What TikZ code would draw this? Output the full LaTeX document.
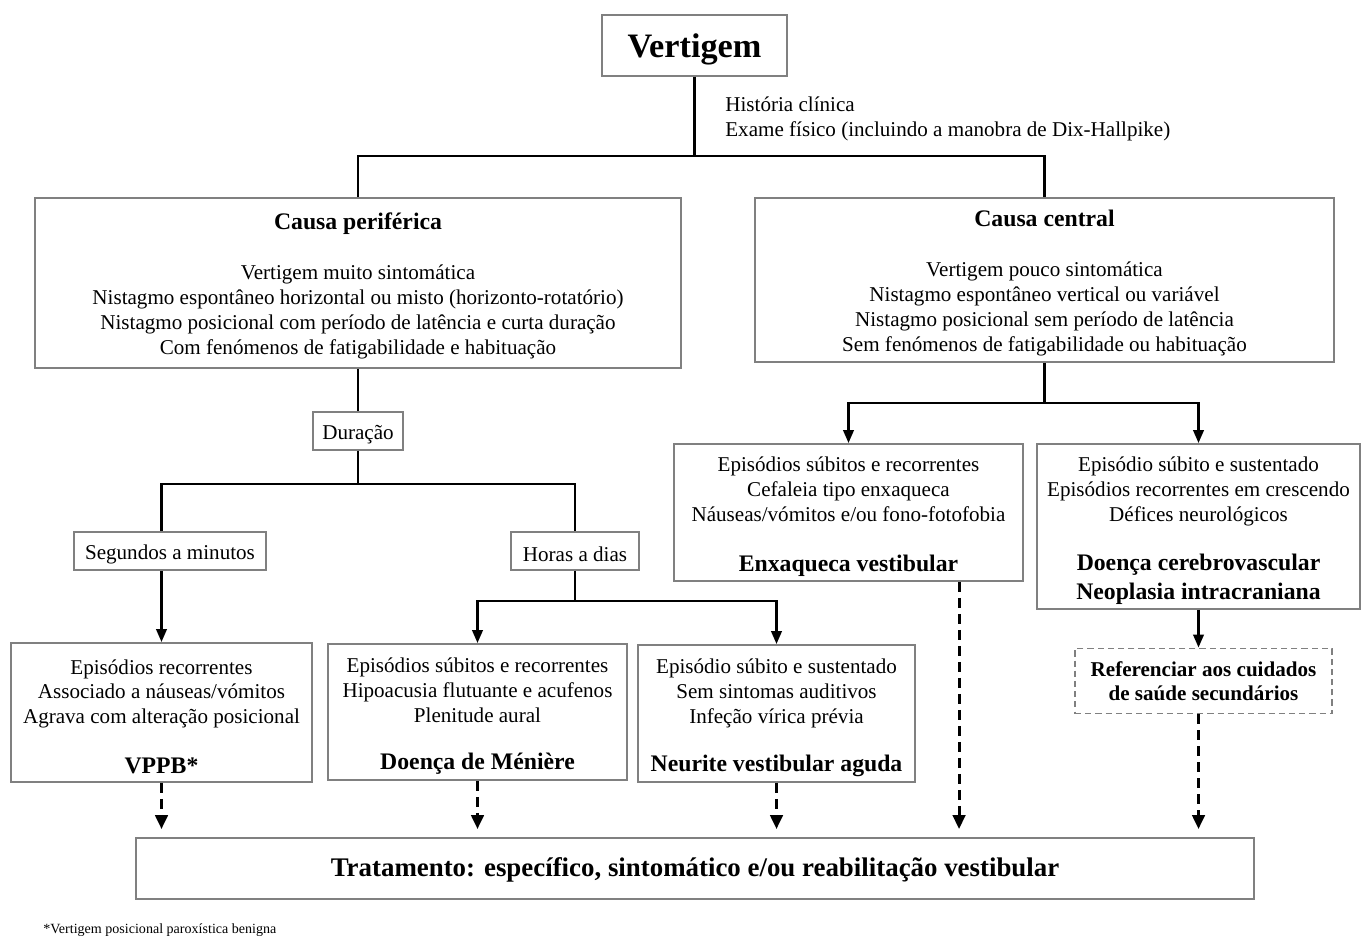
\documentclass[tikz,border=0pt]{standalone}
\usepackage{fontspec}
\setmainfont{Liberation Serif}
\usetikzlibrary{arrows.meta, positioning, calc}
\definecolor{boxgray}{HTML}{808080}
\newdimen\px \px=0.02cm
\newcommand{\hd}[1]{{\fontsize{13.5}{16}\selectfont\bfseries #1}}
\newcommand{\up}{\rule{0pt}{13pt}}

\begin{document}
\begin{tikzpicture}[
  x=0.02cm, y=-0.02cm,
  card/.style={rectangle, draw=boxgray, line width=1.1pt, fill=white, align=center, inner sep=0pt, font=\fontsize{12}{14.2}\selectfont, execute at begin node={\rule{0pt}{12.3pt}}},
  note/.style={inner sep=0pt, anchor=west, align=left, font=\fontsize{#1}{14.2}\selectfont},
  link/.style={black, line width=1.4pt},
  arr/.style={link, -{Triangle[length=2.6mm, width=2.1mm]}},
  darr/.style={black, line width=1.7pt, dash pattern=on 0.2cm off 0.12cm, -{Triangle[length=2.8mm, width=2.5mm]}, shorten >=8\px},
]
  \useasboundingbox (0,0) rectangle (1362,938);
  \fill[white] (0,0) rectangle (1362,938);

  % Top
  \node[card, minimum width=185\px, minimum height=61\px, text depth=0pt, font=\fontsize{19.5}{22}\selectfont\bfseries] (vert) at (694.5,45.5) {Vertigem};
  \node[note=12] (hist) at (725,118.5) {História clínica\\Exame físico (incluindo a manobra de Dix-Hallpike)};

  % Causes
  \node[card, minimum width=646\px, minimum height=170\px] (perif) at (358,283) {\up\hd{Causa periférica}\\[14pt]
    Vertigem muito sintomática\\
    Nistagmo espontâneo horizontal ou misto (horizonto-rotatório)\\
    Nistagmo posicional com período de latência e curta duração\\
    Com fenómenos de fatigabilidade e habituação};
  \node[card, minimum width=579\px, minimum height=164\px] (centr) at (1044.5,280) {\up\hd{Causa central}\\[14pt]
    Vertigem pouco sintomática\\
    Nistagmo espontâneo vertical ou variável\\
    Nistagmo posicional sem período de latência\\
    Sem fenómenos de fatigabilidade ou habituação};

  % Peripheral branch
  \node[card, minimum width=90\px, minimum height=38\px] (dur) at (358,431) {Duração};
  \node[card, minimum width=192\px, minimum height=38\px] (seg) at (170,551) {Segundos a minutos};
  \node[card, minimum width=128\px, minimum height=38\px] (hor) at (575,551) {Horas a dias};
  \node[card, minimum width=301\px, minimum height=139\px] (vppb) at (161.5,712.5) {\up Episódios recorrentes\\
    Associado a náuseas/vómitos\\
    Agrava com alteração posicional\\[14pt]
    \hd{VPPB*}};
  \node[card, minimum width=299\px, minimum height=136\px] (men) at (477.5,712) {\up Episódios súbitos e recorrentes\\
    Hipoacusia flutuante e acufenos\\
    Plenitude aural\\[13pt]
    \hd{Doença de Ménière}};
  \node[card, minimum width=277\px, minimum height=137\px] (neu) at (776.5,713.5) {\up Episódio súbito e sustentado\\
    Sem sintomas auditivos\\
    Infeção vírica prévia\\[13pt]
    \hd{Neurite vestibular aguda}};

  % Central branch
  \node[card, minimum width=349\px, minimum height=137\px] (enx) at (848.5,512.5) {\up Episódios súbitos e recorrentes\\
    Cefaleia tipo enxaqueca\\
    Náuseas/vómitos e/ou fono-fotofobia\\[14pt]
    \hd{Enxaqueca vestibular}};
  \node[card, minimum width=323\px, minimum height=165\px] (cer) at (1198.5,526.5) {\up Episódio súbito e sustentado\\
    Episódios recorrentes em crescendo\\
    Défices neurológicos\\[14pt]
    \hd{Doença cerebrovascular}\\[2pt]
    \hd{Neoplasia intracraniana}};
  \node[card, draw=boxgray, dash pattern=on 3.5pt off 2.3pt, minimum width=257\px, minimum height=65\px, font=\fontsize{12}{13.7}\selectfont\bfseries] (ref) at (1203.5,681) {Referenciar aos cuidados\\de saúde secundários};

  % Treatment
  \node[card, minimum width=1118\px, minimum height=61\px, font=\fontsize{15.3}{18}\selectfont\bfseries] (trat) at (695,868.5) {Tratamento: específico, sintomático e/ou reabilitação vestibular};
  \node[note=8] (foot) at (43,930) {*Vertigem posicional paroxística benigna};

  % Connectors
  \draw[link] (vert.south) -- ++(0,79) -| (perif.north);
  \draw[link] (vert.south) -- ++(0,79) -| (centr.north);
  \draw[link] (perif.south) -- (dur.north);
  \draw[link] (dur.south) -- ++(0,33) -| (vppb.north |- seg.north);
  \draw[link] (dur.south) -- ++(0,33) -| (hor.north);
  \draw[arr] (seg.south -| vppb.north) -- (vppb.north);
  \draw[arr] (hor.south) -- ++(0,30) -| (men.north);
  \draw[arr] (hor.south) -- ++(0,30) -| (neu.north);
  \draw[arr] (centr.south) -- ++(0,40) -| (enx.north);
  \draw[arr] (centr.south) -- ++(0,40) -| (cer.north);
  \draw[arr] (cer.south) -- (cer.south |- ref.north);

  % Dashed arrows to treatment
  \coordinate (enxout) at ($(enx.south)!0.63!(enx.south east)$);
  \draw[darr] (vppb.south) -- (vppb.south |- trat.north);
  \draw[darr] (men.south) -- (men.south |- trat.north);
  \draw[darr] (neu.south) -- (neu.south |- trat.north);
  \draw[darr] (enxout) -- (enxout |- trat.north);
  \draw[darr] (ref.south -| cer.south) -- (cer.south |- trat.north);
\end{tikzpicture}
\end{document}
